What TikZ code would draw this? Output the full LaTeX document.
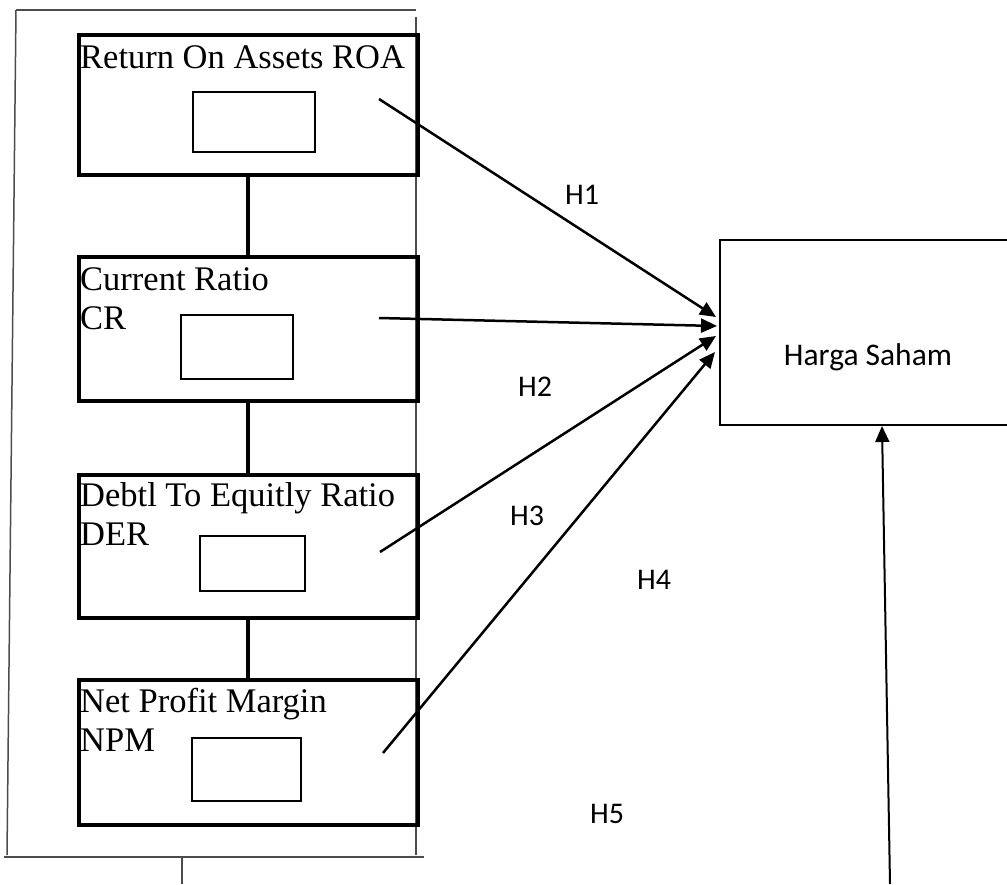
\documentclass[tikz,border=0pt]{standalone}
\usepackage{fontspec}
\setmainfont{Liberation Serif}
\newfontfamily\labelfont{Carlito}
\usetikzlibrary{arrows.meta}
\begin{document}
\begin{tikzpicture}[x=1pt,y=-1pt,
  bigbox/.style={draw, line width=3.8pt, rectangle, inner sep=0pt, outer sep=0pt},
  smallbox/.style={draw, line width=2.6pt, rectangle, inner sep=0pt, outer sep=0pt},
  vartext/.style={anchor=base west, inner sep=0pt, font=\fontsize{34.5}{39}\selectfont},
  hlabel/.style={anchor=base west, inner sep=0pt, font=\labelfont\fontsize{30}{34}\selectfont},
  link/.style={line width=3.8pt},
  frame/.style={draw=black!70, line width=1.5pt},
  arrowline/.style={line width=2.5pt, -{Triangle[length=16pt,width=14pt]}}]
\useasboundingbox (0,0) rectangle (1007,884);
\clip (0,0) rectangle (1007,884);
% outer frame
\draw[frame] (16,10) -- (416,10);
\draw[frame] (416,17) -- (416,855);
\draw[frame] (16,10) -- (7,855);
\draw[frame] (4,857) -- (424,857);
\draw[frame] (182,857) -- (182,884);
% boxes
\node[bigbox, minimum width=339pt, minimum height=140pt] (roa) at (248.5,105) {};
\node[bigbox, minimum width=339pt, minimum height=144pt] (cr) at (248.5,329) {};
\node[bigbox, minimum width=339pt, minimum height=143pt] (der) at (248.5,546.5) {};
\node[bigbox, minimum width=339pt, minimum height=145pt] (npm) at (248.5,752.5) {};
\node[smallbox, minimum width=122pt, minimum height=60pt] (roai) at (254,122) {};
\node[smallbox, minimum width=112pt, minimum height=64pt] (cri) at (237,347) {};
\node[smallbox, minimum width=105pt, minimum height=55pt] (deri) at (252.5,563.5) {};
\node[smallbox, minimum width=109pt, minimum height=63pt] (npmi) at (246.5,769.5) {};
% texts
\node[vartext] (troa) at (80,68) {Return On Assets ROA};
\node[vartext] (tcr1) at (80,290) {Current Ratio};
\node[vartext] (tcr2) at (80,329) {CR};
\node[vartext] (tder1) at (80,506) {Debtl To Equitly Ratio};
\node[vartext] (tder2) at (80,545) {DER};
\node[vartext] (tnpm1) at (80,712) {Net Profit Margin};
\node[vartext] (tnpm2) at (80,751) {NPM};
% vertical links
\draw[link] (roa.south -| 248,0) -- (cr.north -| 248,0);
\draw[link] (cr.south -| 248,0) -- (der.north -| 248,0);
\draw[link] (der.south -| 248,0) -- (npm.north -| 248,0);
% target box
\node[draw, line width=2.5pt, rectangle, inner sep=0pt, minimum width=300pt, minimum height=185pt] (hs) at (870,332.5) {};
\node[inner sep=0pt, font=\labelfont\fontsize{31.5}{36}\selectfont] (hst) at (868,357) {Harga Saham};
% arrows
\coordinate (s1) at (379,99);
\coordinate (s2) at (379,318);
\coordinate (s3) at (380,552);
\coordinate (s4) at (383,753);
\coordinate (e1) at (716,317);
\coordinate (e2) at (717,326);
\coordinate (e3) at (716,336);
\coordinate (e4) at (715,352);
\coordinate (s5) at (890,884);
\coordinate (e5) at (882,426);
\draw[arrowline] (s1) -- (e1);
\draw[arrowline] (s2) -- (e2);
\draw[arrowline] (s3) -- (e3);
\draw[arrowline] (s4) -- (e4);
\draw[line width=2pt, -{Triangle[length=16pt,width=14pt]}] (s5) -- (e5);
% labels
\node[hlabel] (h1) at (565,204) {H1};
\node[hlabel] (h2) at (518,396) {H2};
\node[hlabel] (h3) at (510,525) {H3};
\node[hlabel] (h4) at (637,589) {H4};
\node[hlabel] (h5) at (590,823) {H5};
\end{tikzpicture}
\end{document}
